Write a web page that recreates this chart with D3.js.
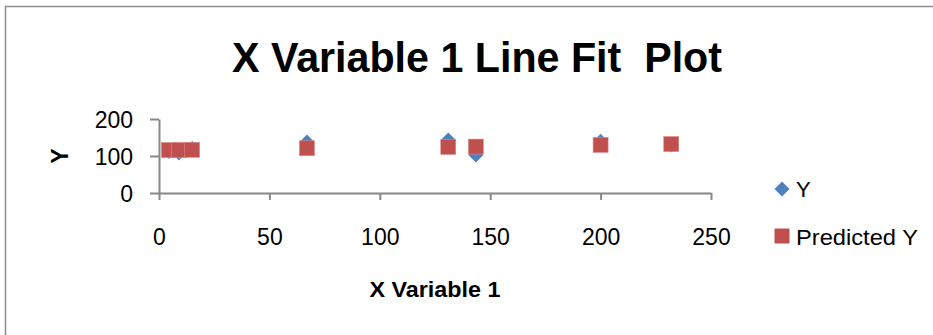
<!DOCTYPE html>
<html>
<head>
<meta charset="utf-8">
<script src="https://cdn.jsdelivr.net/npm/d3@7"></script>
<style>
  html, body { margin: 0; padding: 0; background: #fff; }
  svg { display: block; }
  text { font-family: "Liberation Sans", Arial, sans-serif; fill: #000; white-space: pre; }
</style>
</head>
<body>
<script>
// Regression line-fit data: observed Y and fitted (predicted) Y for each X
const xValues      = [4.5, 9, 15, 67, 131, 143.5, 200, 232];
const yObserved    = [112, 108, 120, 138, 143, 103, 140, 130];
const yPredicted   = [116, 116.3, 116.8, 121, 124.5, 125.4, 130, 132.3];
const xTicks       = [0, 50, 100, 150, 200, 250];
const yTicks       = [0, 100, 200];
const seriesNames  = ["Y", "Predicted Y"];

const W = 933, H = 335;
const svg = d3.select("body").append("svg").attr("width", W).attr("height", H);

// chart-area border (open at right and bottom, like a clipped chart frame)
svg.append("rect")
  .attr("x", 5.5).attr("y", 6.5)
  .attr("width", W + 20).attr("height", H + 20)
  .attr("fill", "#fff").attr("stroke", "#8c8c8c").attr("stroke-width", 1.5);

const x = d3.scaleLinear().domain([0, 250]).range([159, 711]);
const y = d3.scaleLinear().domain([0, 200]).range([193, 119]);

const axisColor = "#878787";
const font = "'Liberation Sans', Arial, sans-serif";

// X axis
const gx = svg.append("g").attr("transform", `translate(0,${y(0)})`)
  .call(d3.axisBottom(x).tickValues(xTicks).tickSize(7).tickPadding(29).tickSizeOuter(0));
// Y axis
const gy = svg.append("g").attr("transform", `translate(${x(0)},0)`)
  .call(d3.axisLeft(y).tickValues(yTicks).tickSize(9).tickPadding(17).tickSizeOuter(0));

[gx, gy].forEach(g => {
  g.select(".domain").attr("stroke", axisColor).attr("stroke-width", 2);
  g.selectAll(".tick line").attr("stroke", axisColor).attr("stroke-width", 2);
  g.selectAll(".tick text").attr("font-size", 23).attr("fill", "#000")
    .attr("font-family", font);
});
gx.selectAll(".tick text").attr("dy", "0.71em");
gy.selectAll(".tick text").attr("dy", "0.36em");

// diamond marker: a square turned 45 degrees
const r = 7.5;
const diamondPath = `M0,${-r}L${r},0L0,${r}L${-r},0Z`;

// Observed Y: blue diamonds
svg.append("g").selectAll("path")
  .data(xValues.map((v, i) => [v, yObserved[i]]))
  .join("path")
  .attr("d", diamondPath)
  .attr("transform", d => `translate(${x(d[0])},${y(d[1])})`)
  .attr("fill", "#4f81bd");

// Predicted Y: red squares
const sq = 15;
svg.append("g").selectAll("rect")
  .data(xValues.map((v, i) => [v, yPredicted[i]]))
  .join("rect")
  .attr("x", d => x(d[0]) - sq / 2)
  .attr("y", d => y(d[1]) - sq / 2)
  .attr("width", sq).attr("height", sq)
  .attr("fill", "#c0504d")
  .attr("stroke", "#d88a88").attr("stroke-width", 0.6);

// Title
svg.append("text")
  .attr("x", 477).attr("y", 72)
  .attr("text-anchor", "middle")
  .attr("font-size", 43).attr("font-weight", "bold")
  .attr("textLength", 490).attr("lengthAdjust", "spacingAndGlyphs")
  .text("X Variable 1 Line Fit  Plot");

// Axis titles
svg.append("text")
  .attr("transform", `translate(68,156) rotate(-90)`)
  .attr("text-anchor", "middle")
  .attr("font-size", 23).attr("font-weight", "bold")
  .text("Y");

svg.append("text")
  .attr("x", 435).attr("y", 297)
  .attr("text-anchor", "middle")
  .attr("font-size", 22).attr("font-weight", "bold")
  .attr("textLength", 131).attr("lengthAdjust", "spacingAndGlyphs")
  .text("X Variable 1");

// Legend
const legend = svg.append("g");
legend.append("path")
  .attr("d", diamondPath)
  .attr("transform", "translate(782,189)")
  .attr("fill", "#4f81bd");
legend.append("text")
  .attr("x", 796).attr("y", 197)
  .attr("font-size", 22)
  .text(seriesNames[0]);
legend.append("rect")
  .attr("x", 782 - 7.5).attr("y", 236 - 7.5)
  .attr("width", 15).attr("height", 15)
  .attr("fill", "#c0504d");
legend.append("text")
  .attr("x", 796).attr("y", 245)
  .attr("font-size", 22)
  .attr("textLength", 122).attr("lengthAdjust", "spacingAndGlyphs")
  .text(seriesNames[1]);
</script>
</body>
</html>
